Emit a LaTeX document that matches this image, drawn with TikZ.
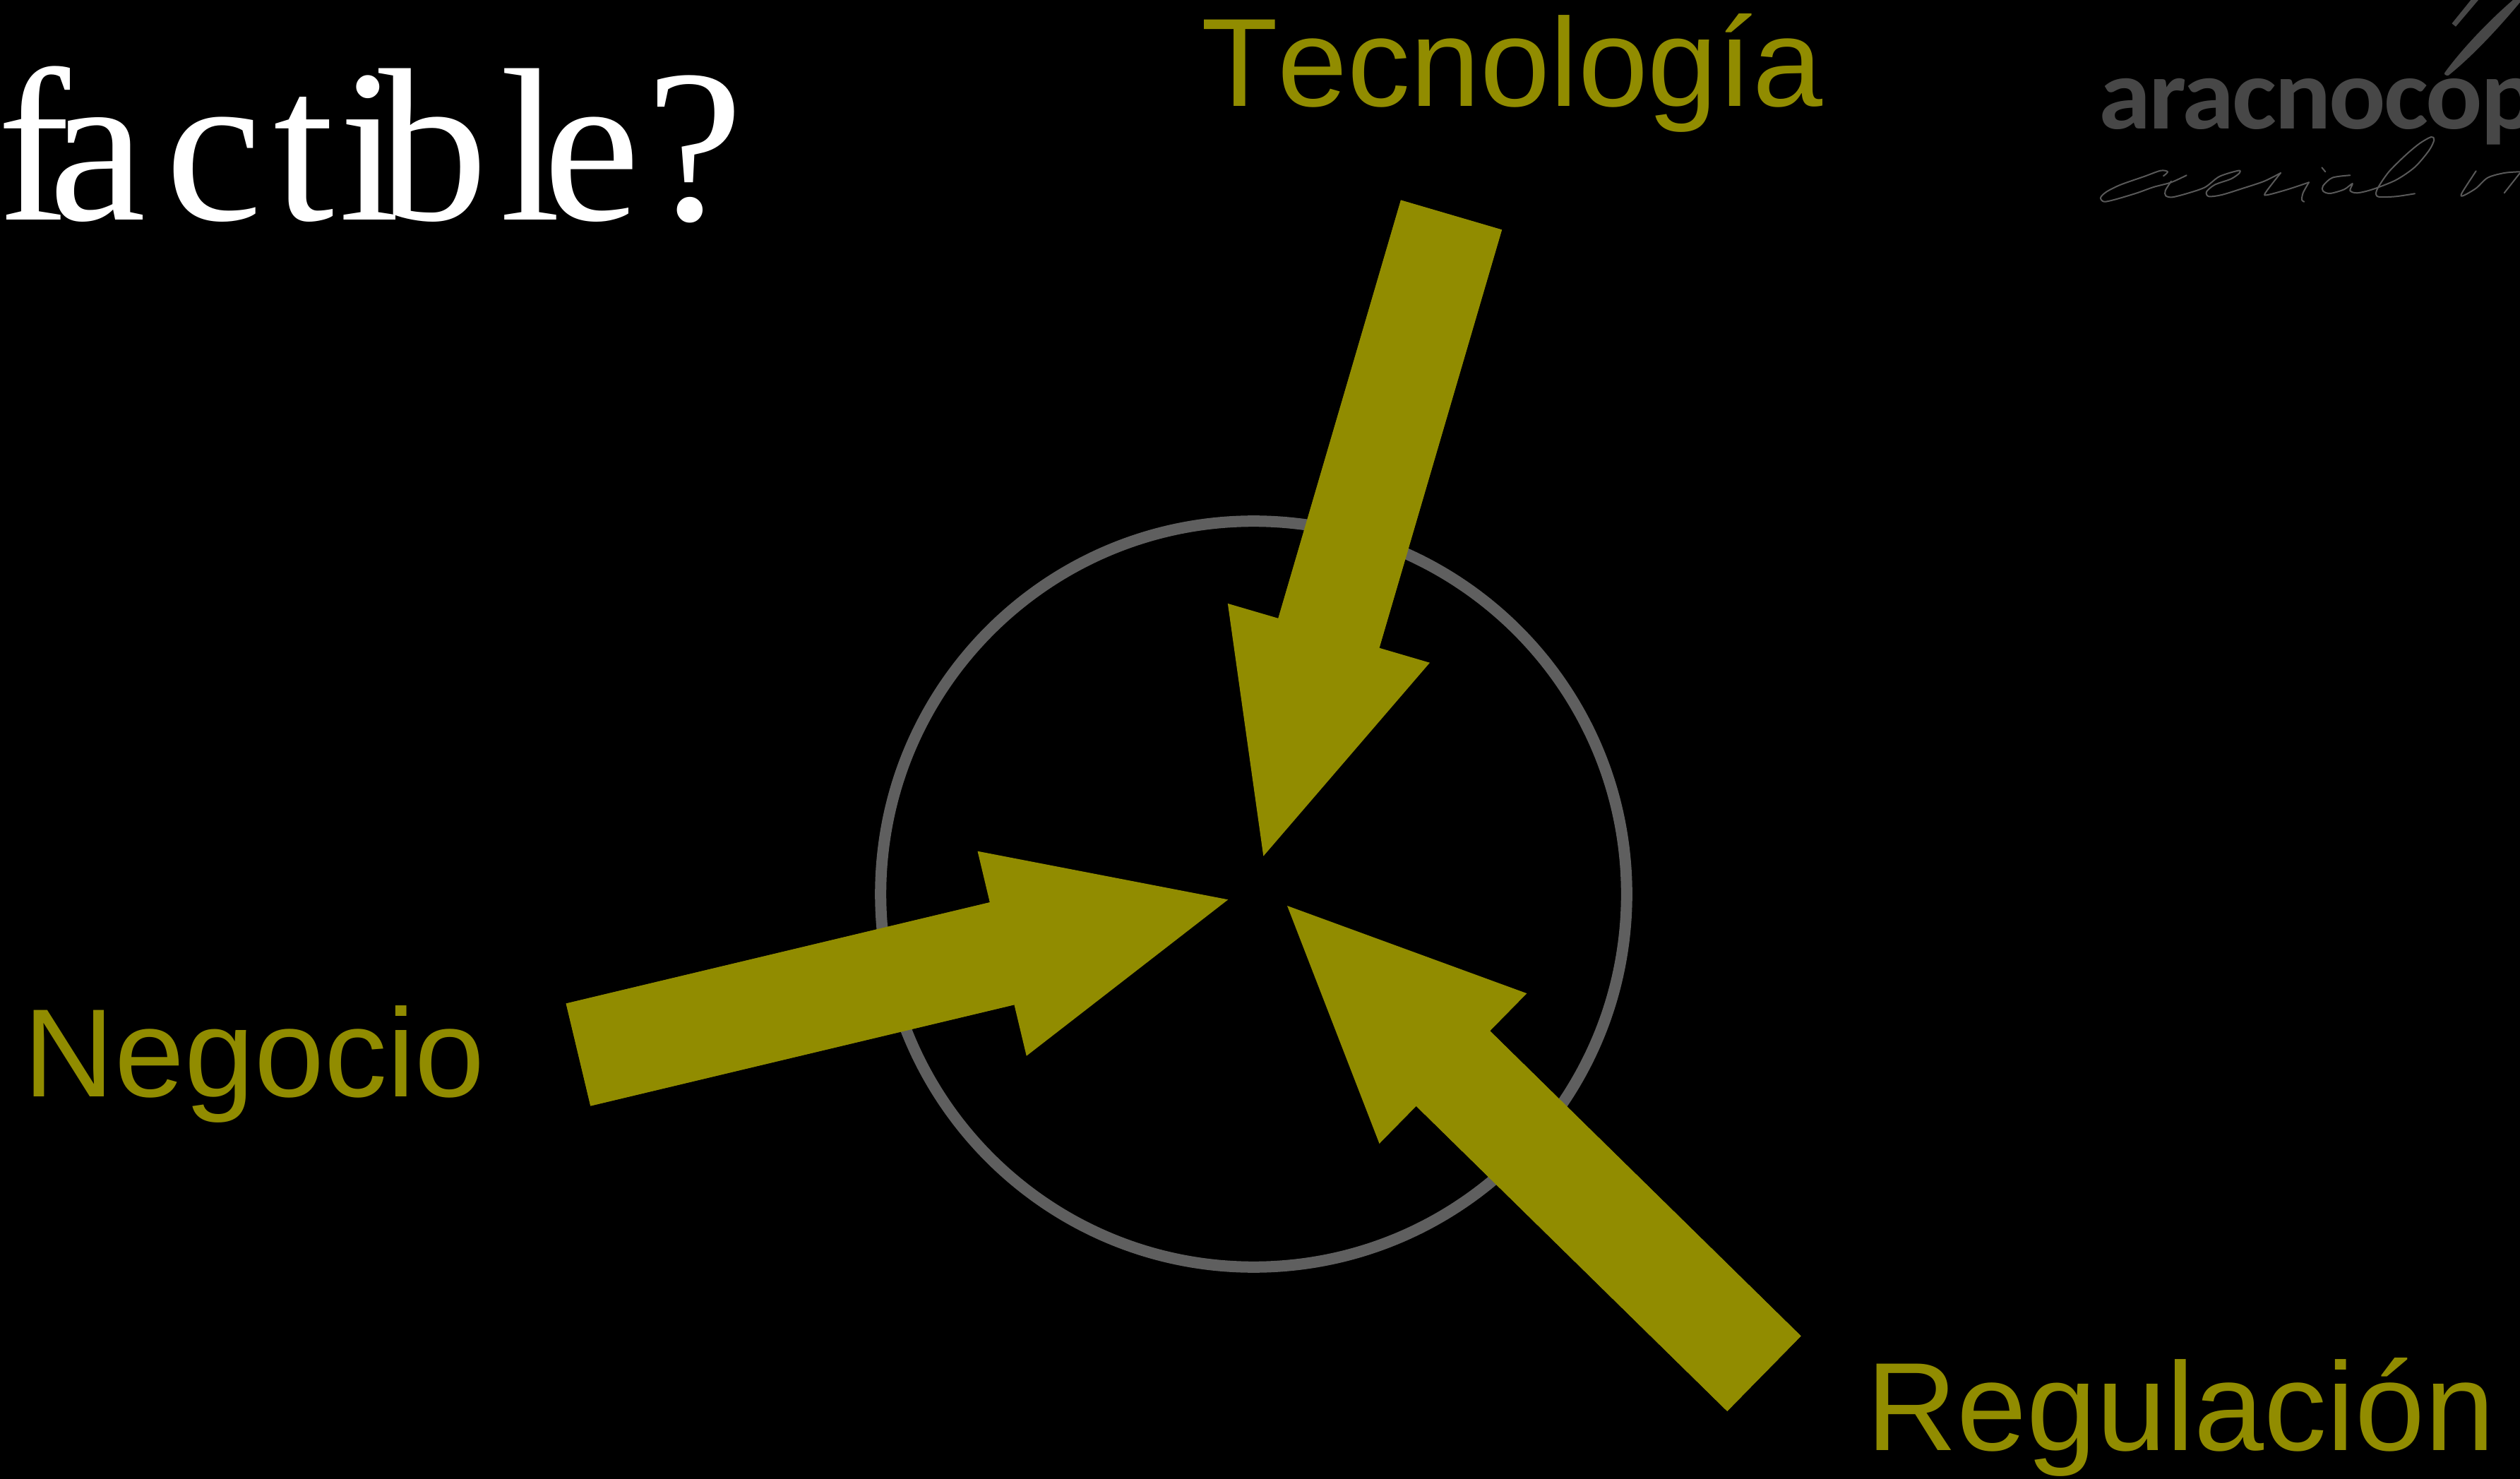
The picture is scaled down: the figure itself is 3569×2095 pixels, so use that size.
\documentclass[tikz,border=0pt]{standalone}
\usepackage{fontspec}
\usetikzlibrary{arrows.meta}
\newfontfamily\labelfont[Kerning=Off]{Liberation Sans}
\newfontfamily\titlefont{Liberation Serif}
\newfontfamily\logofont[LetterSpace=-2,FakeStretch=1.04]{Carlito}
\tikzset{
    forcelabel/.style={anchor=base west, inner sep=0pt, outer sep=0pt, text=forcecolor, font=\labelfont\fontsize{50.6}{60}\selectfont},
    forcearrow/.style={draw=forcecolor, line width=1.49cm, -{Triangle[length=3.29cm,width=2.98cm,fill=forcecolor,line width=0pt]}},
    forceshaft/.style={draw=forcecolor, line width=1.49cm, shorten >=3.0cm},
    handstroke/.style={draw=logocolor!90!white, line width=0.02cm, line cap=round, line join=round}
}
\begin{document}
\begin{tikzpicture}[x=0.01cm,y=-0.01cm]
        \definecolor{forcecolor}{RGB}{145,140,0}
        \definecolor{ringcolor}{RGB}{95,95,95}
        \definecolor{logocolor}{RGB}{71,71,71}
        \fill[black] (0,0) rectangle (3569,2095);
        \useasboundingbox (0,0) rectangle (3569,2095);

        % title, with its loose letter spacing
        \node[anchor=base west, inner sep=0pt, outer sep=0pt, text=white, font=\titlefont\fontsize{87.9}{100}\selectfont] (titleText) at (-3,312)
            {f\kern-0.31cm a\kern0.28cm c\kern0.16cm t\kern0.07cm i\kern-0.30cm b\kern0.18cm l\kern-0.25cm e\kern0.09cm ?};

        % ring
        \node[draw=ringcolor, line width=0.16cm, circle, minimum size=10.56cm, inner sep=0pt] (ring) at (1775.5,1266.5) {};

        % labels
        \node[forcelabel] (tecnologia) at (1701,151) {Tecnología};
        \node[forcelabel] (negocio) at (34,1553) {Negocio};
        \node[forcelabel] (regulacion) at (2643,2054) {Regulación};

        % arrows
        \coordinate (tecTail) at (2055.5,304.5);
        \coordinate (tecTip) at (1789.3,1212.7);
        \coordinate (negTail) at (819,1494);
        \coordinate (negTip) at (1739.3,1274.3);
        \coordinate (regTail) at (2498.4,1945.7);
        \coordinate (regTip) at (1823,1283);
        \foreach \from/\to in {tecTail/tecTip, negTail/negTip, regTail/regTip} {
            \draw[forcearrow] (\from) -- (\to);
            \draw[forceshaft] (\from) -- (\to);
        }

        % logo
        \node[anchor=base west, inner sep=0pt, outer sep=0pt, text=logocolor, font=\logofont\bfseries\fontsize{41}{48}\selectfont] (logoText) at (2972,183) {aracnocop};
        \fill[logocolor] (3462.3,103) .. controls (3490,65) and (3530,25) .. (3559,0) -- (3569,0) -- (3569,3.3) .. controls (3530,50) and (3495,85) .. (3467.4,107) .. controls (3464,107) and (3461,106) .. (3462.3,103) -- cycle;
        \fill[logocolor] (3472.5,33.3) -- (3499.4,0) -- (3510,0) -- (3478,37.7) -- cycle;
        \draw[handstroke] plot[smooth] coordinates {(3064,249.3) (3070,243.3) (3060,241.7) (3036.7,250) (3003.3,261.7) (2983.3,271.7) (2975,280) (2980,285.7) (2996.7,282.3) (3026.7,273.3) (3050,265) (3075,258.3) (3096.7,248.3)};
        \draw[handstroke] plot[smooth] coordinates {(3075,256.7) (3066.7,270) (3067.3,277.3) (3076.7,279.3) (3100,273.3) (3123.3,265) (3143.3,250) (3170,241.7) (3171.7,245) (3160,253.3) (3136.7,261.7) (3125,271.7) (3128.3,278.3) (3146.7,276) (3176.7,266.7) (3206.7,256.7) (3230,245)};
        \draw[handstroke] plot[smooth] coordinates {(3230,245) (3208.3,273.3) (3211.7,276) (3240,268.3) (3270,258.3)};
        \draw[handstroke] plot[smooth] coordinates {(3270,258.3) (3261.7,273.3) (3260,283.3) (3263.3,285.7)};
        \draw[handstroke] (3288.3,237.3) -- (3293.3,243.3);
        \draw[handstroke] plot[smooth] coordinates {(3328.3,248.3) (3303.3,251.7) (3290,263.3) (3290,270.7) (3300,274) (3320,268.3) (3331.7,260) (3328.3,270) (3338.3,273.3) (3360,268.3) (3393.3,255) (3420,236.7) (3440,213.3) (3447.3,198.3) (3443.3,194) (3426.7,203.3) (3406.7,220) (3383.3,243.3) (3368.3,265) (3365,275) (3370,279) (3393.3,278.3) (3420,274.3)};
        \draw[handstroke] plot[smooth] coordinates {(3506.7,242.3) (3486.7,273.3) (3488.3,277.3) (3506.7,266.7) (3523.3,251.7) (3546.7,245) (3568.3,243.3)};
        \draw[handstroke] (3569,245) -- (3546.7,273.3);
\end{tikzpicture}
\end{document}
